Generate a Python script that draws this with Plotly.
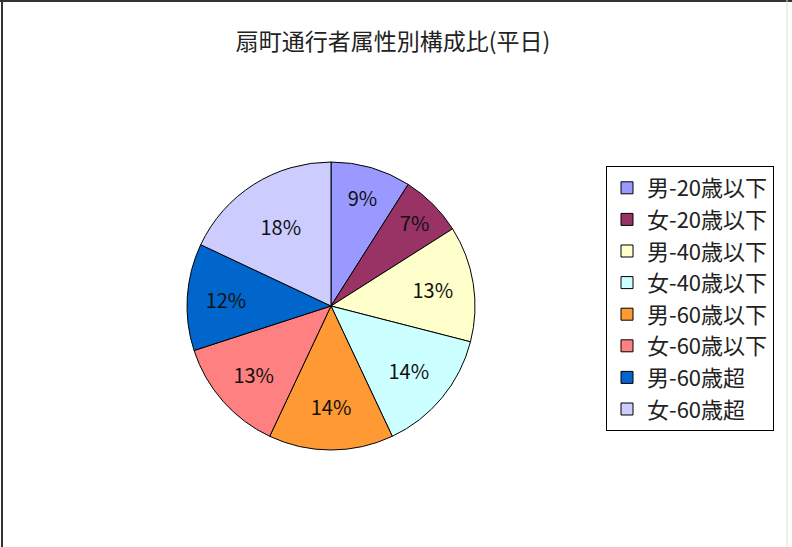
import plotly.graph_objects as go

title = "扇町通行者属性別構成比(平日)"
categories = ["男-20歳以下", "女-20歳以下", "男-40歳以下", "女-40歳以下",
              "男-60歳以下", "女-60歳以下", "男-60歳超", "女-60歳超"]
values = [9, 7, 13, 14, 14, 13, 12, 18]
colors = ["#9999FF", "#993366", "#FFFFCC", "#CCFFFF",
          "#FF9933", "#FF8080", "#0066CC", "#CCCCFF"]

W, H = 792, 547
cx, cy, r = 331, 306, 144
FONT = "Noto Sans CJK JP, sans-serif"

fig = go.Figure(go.Pie(
    labels=categories,
    values=values,
    sort=False,
    direction="clockwise",
    rotation=0,
    marker=dict(colors=colors, line=dict(color="#000000", width=1)),
    texttemplate="%{percent:.0%}",
    textposition="inside",
    insidetextorientation="horizontal",
    textfont=dict(family=FONT, size=20, color="#111111"),
    domain=dict(x=[(cx - r) / W, (cx + r) / W], y=[1 - (cy + r) / H, 1 - (cy - r) / H]),
    hoverinfo="label+percent",
))

fig.update_layout(
    width=W, height=H,
    margin=dict(l=0, r=0, t=0, b=0),
    paper_bgcolor="white",
    plot_bgcolor="white",
    uniformtext=dict(minsize=20, mode="show"),
    title=dict(text=title, x=393 / W, xanchor="center", y=1 - 42 / H, yanchor="middle",
               font=dict(family=FONT, size=23, color="#222222")),
    legend=dict(
        x=606 / W, y=1 - 166 / H, xanchor="left", yanchor="top",
        bordercolor="#000000", borderwidth=1, bgcolor="white",
        font=dict(family=FONT, size=22, color="#222222"),
        itemwidth=30, tracegroupgap=0,
    ),
    shapes=[
        dict(type="line", xref="paper", yref="paper", x0=2 / W, x1=2 / W, y0=0, y1=1,
             line=dict(color="#333333", width=2)),
        dict(type="line", xref="paper", yref="paper", x0=0, x1=1, y0=1 - 1 / H, y1=1 - 1 / H,
             line=dict(color="#333333", width=2)),
        dict(type="line", xref="paper", yref="paper", x0=787 / W, x1=787 / W, y0=0, y1=1,
             line=dict(color="#DDDDDD", width=1)),
    ],
)

fig.write_html("out.html", config={"displayModeBar": False},
               post_script="document.body.style.margin='0';")
